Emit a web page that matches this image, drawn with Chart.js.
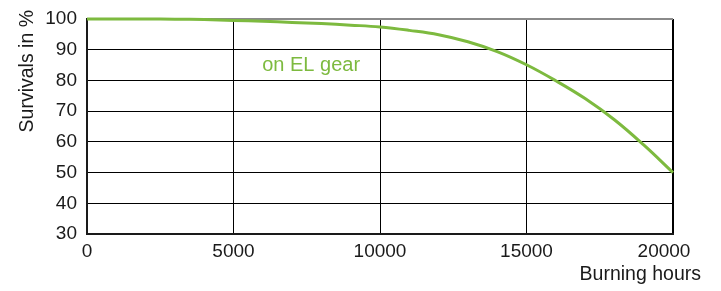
<!DOCTYPE html>
<html>
<head>
<meta charset="utf-8">
<script src="https://cdn.jsdelivr.net/npm/chart.js@4/dist/chart.umd.min.js"></script>
<style>
  html, body { margin: 0; padding: 0; background: #ffffff; }
  #wrap { width: 721px; height: 291px; position: relative; }
</style>
</head>
<body>
<div id="wrap"><canvas id="c" width="721" height="291"></canvas></div>
<script>
const hours = [0, 1000, 2000, 3000, 4000, 5000, 6000, 7000, 8000, 9000, 10000, 11000, 12000, 13000, 14000, 15000, 16000, 17000, 18000, 19000, 20000];
const survivals = [100, 100, 100, 99.95, 99.8, 99.55, 99.25, 98.9, 98.5, 98.0, 97.4, 96.3, 94.9, 92.6, 89.4, 85.1, 79.9, 74.1, 67.2, 59.0, 50];
const xTicks = [0, 5000, 10000, 15000, 20000];
const yTicks = [30, 40, 50, 60, 70, 80, 90, 100];
const seriesLabel = 'on EL gear';
const xTitle = 'Burning hours';
const yTitle = 'Survivals in %';
const labelPos = { x: 7650, y: 85 };

const green = '#7dba3f';
const ink = '#1a1a1a';
const font = 'Liberation Sans, Arial, sans-serif';

const textPlugin = {
  id: 'extraText',
  afterDraw(chart) {
    const ctx = chart.ctx;
    const xs = chart.scales.x, ys = chart.scales.y;
    ctx.save();
    ctx.fillStyle = green;
    ctx.font = '20px ' + font;
    ctx.textAlign = 'center';
    ctx.textBaseline = 'middle';
    ctx.fillText(seriesLabel, xs.getPixelForValue(labelPos.x), ys.getPixelForValue(labelPos.y));
    ctx.fillStyle = ink;
    ctx.font = '19px ' + font;
    ctx.fillText('20000', xs.getPixelForValue(20000) - 9, 252);
    ctx.font = '19.5px ' + font;
    ctx.textAlign = 'right';
    ctx.fillText(xTitle, 701, 275);
    ctx.translate(28, 10);
    ctx.rotate(-Math.PI / 2);
    ctx.textAlign = 'right';
    ctx.fillText(yTitle, 0, 0);
    ctx.restore();
  }
};

function zeroPad(scale) {
  scale.paddingTop = 0; scale.paddingBottom = 0;
  scale.paddingLeft = 0; scale.paddingRight = 0;
}

new Chart(document.getElementById('c'), {
  type: 'line',
  data: {
    datasets: [{
      label: seriesLabel,
      data: hours.map((h, i) => ({ x: h, y: survivals[i] })),
      borderColor: green,
      borderWidth: 3,
      pointRadius: 0,
      tension: 0.4,
      fill: false,
      clip: false
    }]
  },
  options: {
    responsive: false,
    animation: false,
    devicePixelRatio: 1,
    layout: { padding: { top: 19, right: 48, left: 0, bottom: 0 } },
    plugins: { legend: { display: false }, tooltip: { enabled: false } },
    scales: {
      x: {
        type: 'linear',
        min: 0, max: 20000,
        afterBuildTicks(scale) { scale.ticks = xTicks.map(v => ({ value: v })); },
        afterFit(scale) { scale.height = 57; zeroPad(scale); },
        grid: {
          color: '#000000',
          lineWidth: c => (c.tick && c.tick.value === 20000) ? 2 : 1,
          drawTicks: false
        },
        border: { color: ink, width: 2 },
        ticks: {
          color: c => (c.tick && c.tick.value === 20000) ? 'rgba(0,0,0,0)' : ink,
          font: { family: font, size: 19 }, padding: 6, maxRotation: 0, autoSkip: false,
          callback: v => String(v)
        },
        title: { display: false }
      },
      y: {
        min: 30, max: 100,
        afterBuildTicks(scale) { scale.ticks = yTicks.map(v => ({ value: v })); },
        afterFit(scale) { scale.width = 87; zeroPad(scale); },
        grid: {
          color: c => (c.tick && c.tick.value === 100) ? '#8a8a8a' : '#000000',
          lineWidth: c => (c.tick && c.tick.value === 100) ? 2 : 1,
          drawTicks: false
        },
        border: { color: ink, width: 2 },
        ticks: { color: ink, font: { family: font, size: 19 }, padding: 10, autoSkip: false, callback: v => String(v) },
        title: { display: false }
      }
    }
  },
  plugins: [textPlugin]
});
</script>
</body>
</html>
